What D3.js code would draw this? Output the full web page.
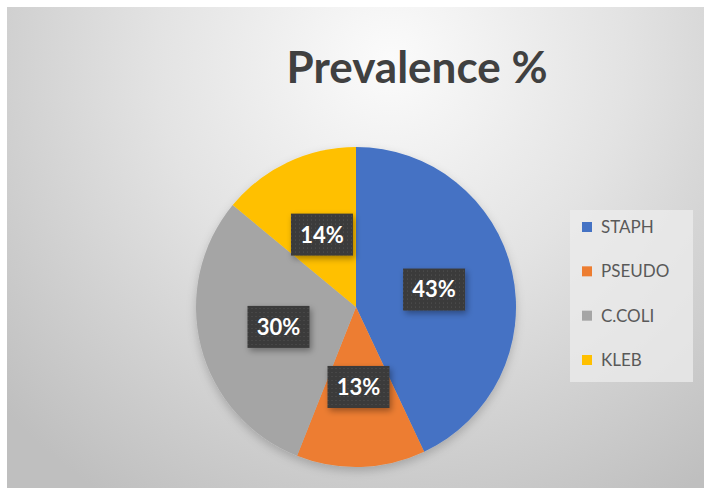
<!DOCTYPE html>
<html>
<head>
<meta charset="utf-8">
<script src="https://cdn.jsdelivr.net/npm/d3@7"></script>
<style>
  body { margin: 0; background: #fff; }
  svg { display: block; }
</style>
</head>
<body>
<svg id="chart"></svg>
<script>
// chart data
const categories = ["STAPH", "PSEUDO", "C.COLI", "KLEB"];
const values = [43, 13, 30, 14];
const labels = ["43%", "13%", "30%", "14%"];
const colors = ["#4472C4", "#ED7D31", "#A5A5A5", "#FFC000"];

let svgWidth = 704, svgHeight = 488;
let svg = d3.select("#chart")
    .attr("width", svgWidth)
    .attr("height", svgHeight);

let defs = svg.append("defs");

// background gradient, light at the top middle
let bg = defs.append("radialGradient")
    .attr("id", "bg")
    .attr("gradientUnits", "userSpaceOnUse")
    .attr("cx", 390).attr("cy", 60).attr("r", 520);
bg.append("stop").attr("offset", "0%").attr("stop-color", "#fbfbfb");
bg.append("stop").attr("offset", "45%").attr("stop-color", "#e3e3e3");
bg.append("stop").attr("offset", "100%").attr("stop-color", "#bfbfbf");

// dotted dark fill for the data labels
let pat = defs.append("pattern")
    .attr("id", "dots")
    .attr("patternUnits", "userSpaceOnUse")
    .attr("width", 4).attr("height", 4);
pat.append("rect").attr("width", 4).attr("height", 4).attr("fill", "#3a3a3a");
pat.append("rect").attr("x", 1).attr("y", 1).attr("width", 1).attr("height", 1).attr("fill", "#555");

let shadow = defs.append("filter").attr("id", "shadow")
    .attr("x", "-20%").attr("y", "-20%").attr("width", "150%").attr("height", "150%");
shadow.append("feDropShadow")
    .attr("dx", 2).attr("dy", 3).attr("stdDeviation", 3)
    .attr("flood-color", "#000").attr("flood-opacity", 0.35);

let pieShadow = defs.append("filter").attr("id", "pieShadow")
    .attr("x", "-20%").attr("y", "-20%").attr("width", "140%").attr("height", "140%");
pieShadow.append("feDropShadow")
    .attr("dx", 0).attr("dy", 4).attr("stdDeviation", 5)
    .attr("flood-color", "#000").attr("flood-opacity", 0.2);

svg.append("rect")
    .attr("x", 7).attr("y", 7)
    .attr("width", svgWidth - 7).attr("height", svgHeight - 7)
    .attr("fill", "url(#bg)");

svg.append("text")
    .attr("x", 417).attr("y", 83)
    .attr("text-anchor", "middle")
    .attr("font-family", "Lato, 'Open Sans', sans-serif")
    .attr("font-weight", "bold")
    .attr("font-size", 44)
    .attr("fill", "#404040")
    .text("Prevalence %");

// pie
let cx = 356, cy = 307, radius = 160;
let pie = d3.pie().sort(null).value(function (d) { return d; });
let arcs = pie(values);
let arc = d3.arc().innerRadius(0).outerRadius(radius);
let labelArc = d3.arc().innerRadius(radius * 0.5).outerRadius(radius * 0.5);

let g = svg.append("g")
    .attr("transform", "translate(" + cx + "," + cy + ")");

g.append("g")
    .attr("filter", "url(#pieShadow)")
    .selectAll("path")
    .data(arcs)
    .enter().append("path")
    .attr("d", arc)
    .attr("fill", function (d, i) { return colors[i]; });

let lab = g.selectAll(".lab")
    .data(arcs)
    .enter().append("g")
    .attr("class", "lab")
    .attr("transform", function (d) {
        let c = labelArc.centroid(d);
        return "translate(" + c[0] + "," + c[1] + ")";
    });

lab.append("rect")
    .attr("x", -31).attr("y", -21)
    .attr("width", 62).attr("height", 42)
    .attr("fill", "url(#dots)")
    .attr("filter", "url(#shadow)");

lab.append("text")
    .attr("text-anchor", "middle")
    .attr("dy", "0.36em")
    .attr("font-family", "Lato, 'Open Sans', sans-serif")
    .attr("font-weight", "bold")
    .attr("font-size", 22)
    .attr("fill", "#fff")
    .text(function (d, i) { return labels[i]; });

// legend
let legend = svg.append("g").attr("transform", "translate(570,210)");
legend.append("rect")
    .attr("width", 123).attr("height", 172)
    .attr("fill", "#ececec").attr("fill-opacity", 0.75);

let ly = d3.scalePoint().domain(categories).range([17, 150]);

let item = legend.selectAll(".item")
    .data(categories)
    .enter().append("g")
    .attr("class", "item")
    .attr("transform", function (d) { return "translate(12," + ly(d) + ")"; });

item.append("rect")
    .attr("x", 0).attr("y", -5)
    .attr("width", 10).attr("height", 10)
    .attr("fill", function (d, i) { return colors[i]; });

item.append("text")
    .attr("x", 19)
    .attr("dy", "0.36em")
    .attr("font-family", "Lato, 'Open Sans', sans-serif")
    .attr("font-size", 17)
    .attr("fill", "#595959")
    .text(function (d) { return d; });
</script>
</body>
</html>
